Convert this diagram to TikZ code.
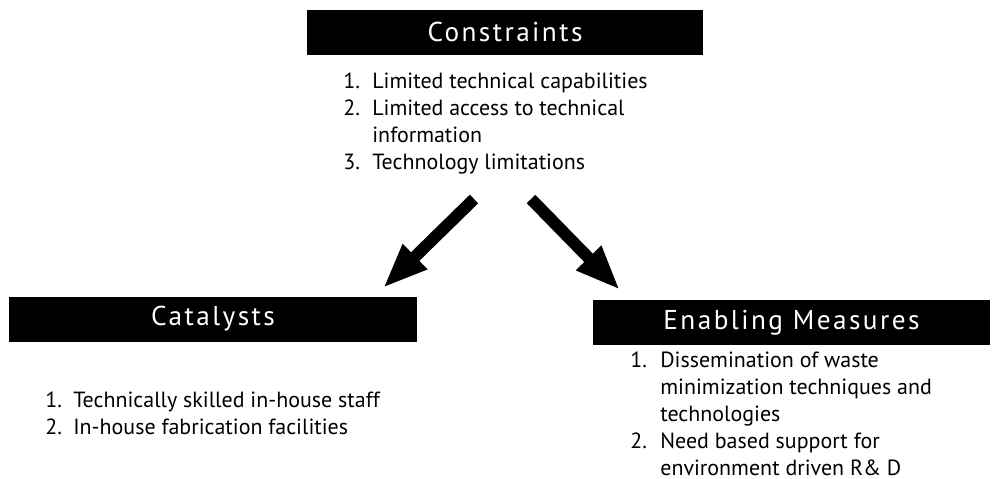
\documentclass[tikz,border=0pt]{standalone}
\usepackage{fontspec}
\setmainfont{PT Sans}
\usetikzlibrary{arrows.meta,positioning}

\begin{document}
\begin{tikzpicture}[x=0.02cm,y=-0.02cm,
head/.style={fill=black, text=white, inner sep=0pt, minimum height=0.9cm,
  font=\fontsize{15.5}{17}\selectfont\addfontfeature{LetterSpace=9}},
items/.style={anchor=base west, inner sep=0pt, font=\fontsize{12.5}{15.5}\selectfont},
bigarrow/.style={-{Triangle[length=9mm,width=6.4mm]}, line width=2.4mm}]
\useasboundingbox (0,0) rectangle (993,478);
% headings
\node (cons) at (505,32) [head, minimum width=7.92cm] {Constraints};
\node (cat) at (213,319) [head, minimum width=8.16cm] {Catalysts};
\node (enab) at (791.5,322.5) [head, minimum width=7.94cm] {Enabling Measures};
% lists
\node (conslist) at (343,88) [items] {%
\begin{tabular}[t]{@{}p{5.8mm}@{}l@{}}
1. & Limited technical capabilities\\
2. & Limited access to technical\\
   & information\\
3. & Technology limitations
\end{tabular}};
\node (catlist) at (45,407) [items] {%
\begin{tabular}[t]{@{}p{5.6mm}@{}l@{}}
1. & Technically skilled in-house staff\\
2. & In-house fabrication facilities
\end{tabular}};
\node (enablist) at (630,367) [items] {%
\begin{tabular}[t]{@{}p{6mm}@{}l@{}}
1. & Dissemination of waste\\
   & minimization techniques and\\
   & technologies\\
2. & Need based support for\\
   & environment driven R\& D
\end{tabular}};
% arrows
\coordinate (consl) at (474,199);
\coordinate (consr) at (531,199);
\coordinate (catin) at (383,288);
\coordinate (enabin) at (620,290);
\begin{scope}
\draw [bigarrow] (consl)--(catin);
\draw [bigarrow] (consr)--(enabin);
\end{scope}
\end{tikzpicture}
\end{document}
